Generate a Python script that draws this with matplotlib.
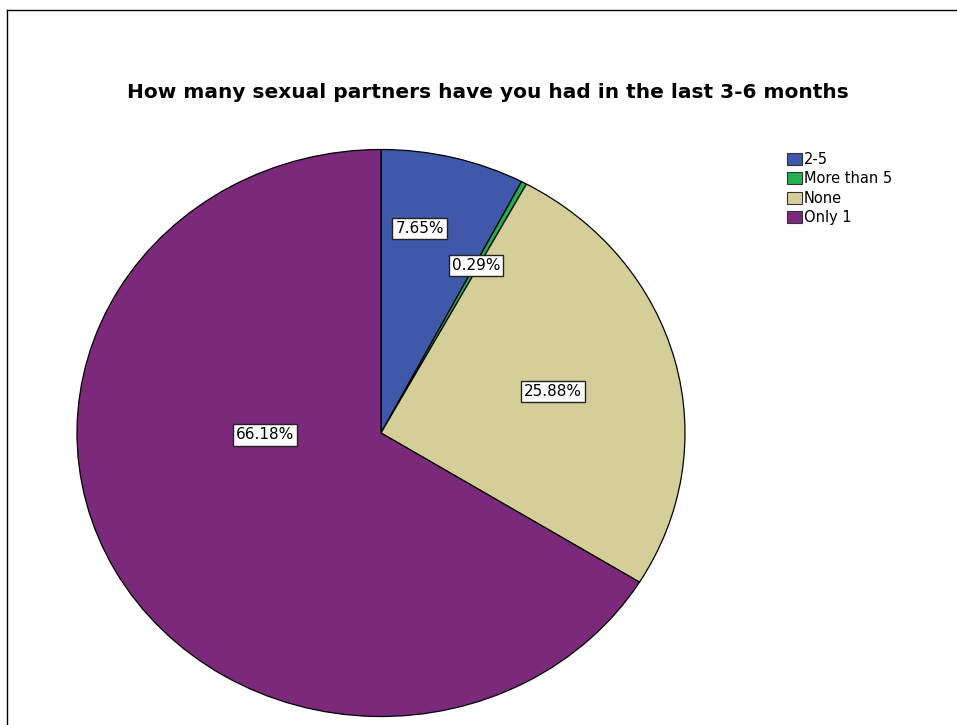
import matplotlib.pyplot as plt
from matplotlib.lines import Line2D
from matplotlib.patches import Patch

categories = ["2-5", "More than 5", "None", "Only 1"]
percents = [7.65, 0.29, 25.88, 66.18]
colors = ["#3e58aa", "#22b14b", "#d4cf99", "#7b297a"]

# where each percent box sits inside the pie (x, y in pie radii)
label_xy = [(0.127, 0.721), (0.3125, 0.591), (0.567, 0.146), (-0.382, -0.007)]

W, H = 957, 725
plt.rcParams["font.family"] = ["DejaVu Sans"]
fig = plt.figure(figsize=(W / 100, H / 100), dpi=100)

# outer chart frame, open at right and bottom
fig.add_artist(Line2D([7 / W, 7 / W], [0, 1 - 10 / H], color="black", lw=1.0,
                      transform=fig.transFigure))
fig.add_artist(Line2D([7 / W, 1], [1 - 10 / H, 1 - 10 / H], color="black", lw=1.0,
                      transform=fig.transFigure))

cx, cy, rx, ry = 381, 433, 304, 283.5
ax = fig.add_axes([(cx - rx) / W, (H - cy - ry) / H, 2 * rx / W, 2 * ry / H])

wedges, texts, autotexts = ax.pie(
    percents, colors=colors, startangle=90, counterclock=False,
    autopct=lambda p: f"{p:.2f}%",
    wedgeprops=dict(edgecolor="black", linewidth=0.9),
    textprops=dict(fontsize=11, color="black"),
)
for w in wedges:
    w.set_clip_on(False)
for t, (x, y) in zip(autotexts, label_xy):
    t.set_position((x, y))
    t.set_ha("center")
    t.set_va("center")
    t.set_bbox(dict(boxstyle="square,pad=0.2", facecolor="white",
                    edgecolor="#222222", linewidth=1.0))

ax.set_aspect("auto")
ax.set_xlim(-1, 1)
ax.set_ylim(-1, 1)
ax.axis("off")

fig.text(488 / W, 1 - 92 / H,
         "How many sexual partners have you had in the last 3-6 months",
         ha="center", va="center", fontsize=14.5, fontweight="bold")

handles = [Patch(facecolor=c, edgecolor="#333333", linewidth=0.8) for c in colors]
fig.legend(handles, categories, loc="upper left",
           bbox_to_anchor=(787 / W, 1 - 152 / H), frameon=False,
           fontsize=10.5, handlelength=1.0, handleheight=0.9,
           handletextpad=0.15, labelspacing=0.3, borderpad=0, borderaxespad=0)

fig.savefig("out.png", dpi=100, facecolor="white")
